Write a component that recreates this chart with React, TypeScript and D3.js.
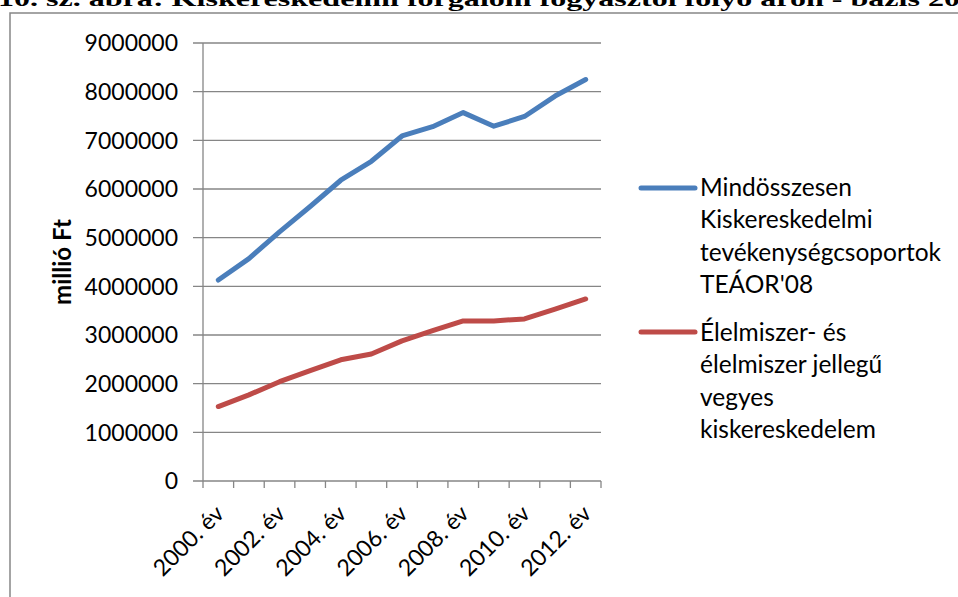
import React from "react";
import { scaleBand, scaleLinear, line } from "d3";

// data (millió Ft)
const years = ["2000", "2001", "2002", "2003", "2004", "2005", "2006", "2007", "2008", "2009", "2010", "2011", "2012"];
const totalRetail = [4130000, 4570000, 5120000, 5640000, 6180000, 6570000, 7090000, 7280000, 7570000, 7290000, 7490000, 7910000, 8250000];
const foodRetail = [1530000, 1770000, 2040000, 2270000, 2490000, 2610000, 2880000, 3090000, 3290000, 3290000, 3330000, 3530000, 3740000];
const yTicks = [0, 1000000, 2000000, 3000000, 4000000, 5000000, 6000000, 7000000, 8000000, 9000000];
const legendTotal = ["Mindösszesen", "Kiskereskedelmi", "tevékenységcsoportok", "TEÁOR'08"];
const legendFood = ["Élelmiszer- és", "élelmiszer jellegű", "vegyes", "kiskereskedelem"];
const titleText = "10. sz. ábra: Kiskereskedelmi forgalom fogyasztói folyó áron - bázis 20";

const W = 958;
const H = 597;
const FONT = "Lato, 'Open Sans', sans-serif";
const GRID = "#868686";

export default function App() {
  const x = scaleBand().domain(years).range([203, 601]).paddingInner(0).paddingOuter(0);
  const y = scaleLinear().domain([0, 9000000]).range([481, 43]);
  const cx = (yr: string) => (x(yr) as number) + x.bandwidth() / 2;

  const mkLine = line<number>()
    .x((_, i) => cx(years[i]))
    .y((d) => y(d));

  const bounds = years.map((yr) => x(yr) as number).concat([601]);

  return (
    <div style={{ position: "absolute", left: 0, top: 0 }}>
      <svg width={W} height={H} style={{ display: "block" }}>
        <rect width={W} height={H} fill="#fff" />
        <text
          x={-2}
          y={6}
          textLength={962}
          lengthAdjust="spacingAndGlyphs"
          fontFamily="'Liberation Serif', serif"
          fontWeight="bold"
          fontSize={21}
          fill="#000"
        >
          {titleText}
        </text>
        {/* chart frame, runs past the right and bottom edge */}
        <rect x={10} y={13} width={W + 20} height={H + 20} fill="none" stroke={GRID} strokeWidth={1.5} />

        {/* grid */}
        {yTicks.map((t) => (
          <g key={t}>
            <line x1={193} x2={601} y1={y(t)} y2={y(t)} stroke={GRID} strokeWidth={1.3} />
            <text x={178} y={y(t)} dy="0.36em" textAnchor="end" fontFamily={FONT} fontSize={23} fill="#000">
              {t}
            </text>
          </g>
        ))}
        <line x1={203} x2={203} y1={43} y2={481} stroke={GRID} strokeWidth={1.3} />
        {bounds.map((b, i) => (
          <line key={i} x1={b} x2={b} y1={481} y2={488} stroke={GRID} strokeWidth={1.3} />
        ))}
        {years.map((yr, i) =>
          i % 2 === 0 ? (
            <text
              key={yr}
              transform={`translate(${cx(yr) + 7},${515}) rotate(-45)`}
              textAnchor="end"
              fontFamily={FONT}
              fontSize={23}
              fill="#000"
            >
              {yr + ". év"}
            </text>
          ) : null
        )}
        <text
          transform={`translate(${71},${262}) rotate(-90)`}
          textAnchor="middle"
          fontFamily={FONT}
          fontWeight="bold"
          fontSize={24}
          fill="#000"
        >
          millió Ft
        </text>

        {/* series */}
        <path d={mkLine(totalRetail) || ""} fill="none" stroke="#4A7EBB" strokeWidth={5} strokeLinejoin="round" strokeLinecap="round" />
        <path d={mkLine(foodRetail) || ""} fill="none" stroke="#BE4B48" strokeWidth={5} strokeLinejoin="round" strokeLinecap="round" />

        {/* legend */}
        <line x1={641} x2={695} y1={188} y2={188} stroke="#4A7EBB" strokeWidth={5} strokeLinecap="round" />
        {legendTotal.map((s, i) => (
          <text key={s} x={700} y={196 + i * 32.3} fontFamily={FONT} fontSize={24.5} fill="#000">
            {s}
          </text>
        ))}
        <line x1={641} x2={695} y1={332} y2={332} stroke="#BE4B48" strokeWidth={5} strokeLinecap="round" />
        {legendFood.map((s, i) => (
          <text key={s} x={700} y={341 + i * 32.3} fontFamily={FONT} fontSize={24.5} fill="#000">
            {s}
          </text>
        ))}
      </svg>
    </div>
  );
}
